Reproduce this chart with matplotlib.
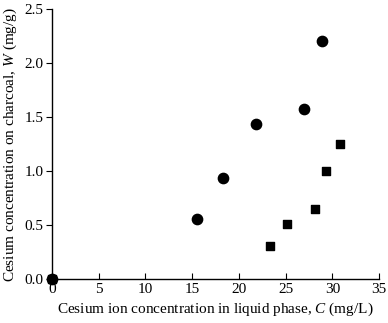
import matplotlib
matplotlib.use("Agg")
import matplotlib.pyplot as plt

# series 1 (circles) and series 2 (squares)
circle_c = [0.0, 15.5, 18.3, 21.8, 27.0, 28.9]
circle_w = [0.0, 0.556, 0.935, 1.435, 1.574, 2.20]
square_c = [0.0, 23.3, 25.2, 28.1, 29.3, 30.8]
square_w = [0.0, 0.31, 0.506, 0.648, 1.0, 1.247]

x_ticks = [0, 5, 10, 15, 20, 25, 30, 35]
y_ticks = [0.0, 0.5, 1.0, 1.5, 2.0, 2.5]

plt.rcParams["font.family"] = ["Liberation Serif", "DejaVu Serif"]
plt.rcParams["mathtext.fontset"] = "custom"
plt.rcParams["mathtext.rm"] = "Liberation Serif"
plt.rcParams["mathtext.it"] = "Liberation Serif:italic"

fig = plt.figure(figsize=(3.88, 3.23), dpi=100)
ax = fig.add_axes([0.134, 0.136, 0.843, 0.836])

ax.scatter(circle_c, circle_w, marker="o", s=55, color="black", zorder=3, clip_on=False)
ax.scatter(square_c, square_w, marker="s", s=38, color="black", zorder=3, clip_on=False)

ax.set_xlim(0, 35)
ax.set_ylim(0, 2.5)
ax.set_xticks(x_ticks)
ax.set_yticks(y_ticks)
ax.set_yticklabels([f"{v:.1f}" for v in y_ticks])
ax.tick_params(axis="x", direction="in", length=4, labelsize=11, pad=3)
ax.tick_params(axis="y", direction="out", length=4, labelsize=11, pad=2)

for side in ["top", "right"]:
    ax.spines[side].set_visible(False)
for side in ["left", "bottom"]:
    ax.spines[side].set_linewidth(1.0)

ax.set_xlabel("Cesium ion concentration in liquid phase, $\\mathit{C}$ (mg/L)", fontsize=11, labelpad=3)
ax.set_ylabel("Cesium concentration on charcoal, $\\mathit{W}$ (mg/g)", fontsize=11, labelpad=4)

fig.savefig("out.png", dpi=100)
